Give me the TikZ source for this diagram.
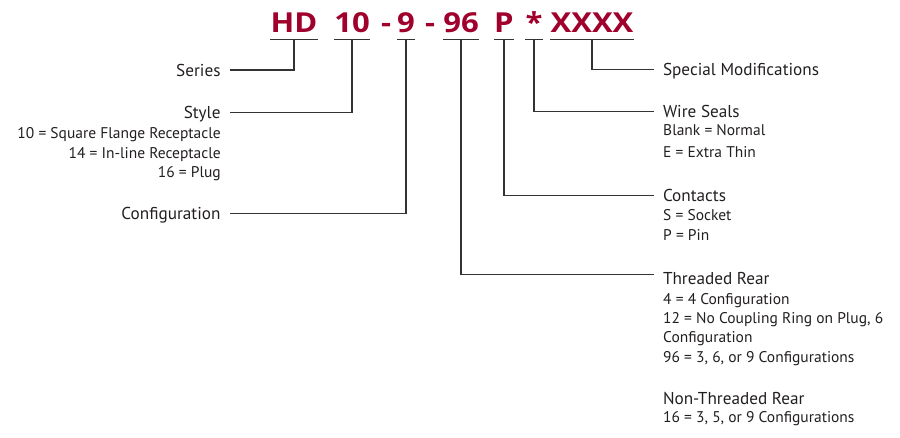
\documentclass[tikz,border=0pt]{standalone}
\usepackage{fontspec}
\setmainfont{PT Sans}
\newfontfamily\codefont{Open Sans}
\definecolor{codered}{HTML}{A0002C}
\definecolor{txt}{HTML}{231F20}
\definecolor{ln}{HTML}{333333}
\begin{document}
\begin{tikzpicture}[x=1pt,y=-1pt,
  code/.style={font=\codefont\fontsize{27.5}{30}\selectfont\bfseries, text=codered, inner sep=0pt, text depth=0pt, anchor=base, xscale=1.13},
  head/.style={font=\fontsize{17.2}{20}\selectfont, text=txt, inner sep=0pt, text height=12.1pt, text depth=0pt, outer xsep=9.5pt},
  sub/.style={font=\fontsize{15.5}{18}\selectfont, text=txt, inner sep=0pt, text height=10.9pt, text depth=0pt},
  lhead/.style={head, anchor=east},
  rhead/.style={head, anchor=west},
  lsub/.style={sub, anchor=east},
  rsub/.style={sub, anchor=west},
  conn/.style={draw=ln, line width=1.3pt},
  uline/.style={draw=ln, line width=1.3pt}]
\useasboundingbox (0,0) rectangle (900,438);
% code pieces
\node[code] (hd) at (294,32.3) {HD};
\node[code] (c10) at (352,32.3) {10};
\node[code] (d1) at (386,32.3) {-};
\node[code] (c9) at (406,32.3) {9};
\node[code] (d2) at (430,32.3) {-};
\node[code] (c96) at (461,32.3) {96};
\node[code] (cp) at (504,32.3) {P};
\node[code] (cs) at (534,32.3) {*};
\node[code] (cx) at (592,32.3) {XXXX};
\foreach \n in {hd,c10,c9,c96,cp,cs,cx}{
  \draw[uline] ([yshift=-7.3pt]\n.south west) -- ([yshift=-7.3pt]\n.south east);
}
% left labels
\node[lhead] (series) at (230,70) {Series};
\node[lhead] (style) at (230,112.8) {Style};
\node[lsub] (s10) at (221,133.5) {10 = Square Flange Receptacle};
\node[lsub] (s14) at (221,153.5) {14 = In-line Receptacle};
\node[lsub] (s16) at (221,172.5) {16 = Plug};
\node[lhead] (config) at (230,213.2) {Configuration};
% right labels
\node[rhead] (spec) at (653.5,69.6) {Special Modifications};
\node[rhead] (wire) at (653.5,111.3) {Wire Seals};
\node[rsub] (blank) at (663,130.5) {Blank = Normal};
\node[rsub] (extra) at (663,152) {E = Extra Thin};
\node[rhead] (contacts) at (653.5,195.4) {Contacts};
\node[rsub] (socket) at (663,215.3) {S = Socket};
\node[rsub] (pin) at (663,235.3) {P = Pin};
\node[rhead] (threaded) at (653.5,278) {Threaded Rear};
\node[rsub] (t4) at (663,298.8) {4 = 4 Configuration};
\node[rsub] (t12) at (663,318.5) {12 = No Coupling Ring on Plug, 6};
\node[rsub] (tconf) at (663,337.5) {Configuration};
\node[rsub] (t96) at (663,357.5) {96 = 3, 6, or 9 Configurations};
\node[rhead] (nonthr) at (653.5,398) {Non-Threaded Rear};
\node[rsub] (t16) at (663,417.5) {16 = 3, 5, or 9 Configurations};
% connectors
\draw[conn] ([yshift=-7.3pt]hd.south) |- (series.east);
\draw[conn] ([yshift=-7.3pt]c10.south) |- (style.east);
\draw[conn] ([yshift=-7.3pt]c9.south) |- (config.east);
\draw[conn] ([yshift=-7.3pt]cx.south) |- (spec.west);
\draw[conn] ([yshift=-7.3pt]cs.south) |- (wire.west);
\draw[conn] ([yshift=-7.3pt]cp.south) |- (contacts.west);
\draw[conn] ([yshift=-7.3pt]c96.south) |- ([yshift=3.7pt]threaded.west);
\end{tikzpicture}
\end{document}
